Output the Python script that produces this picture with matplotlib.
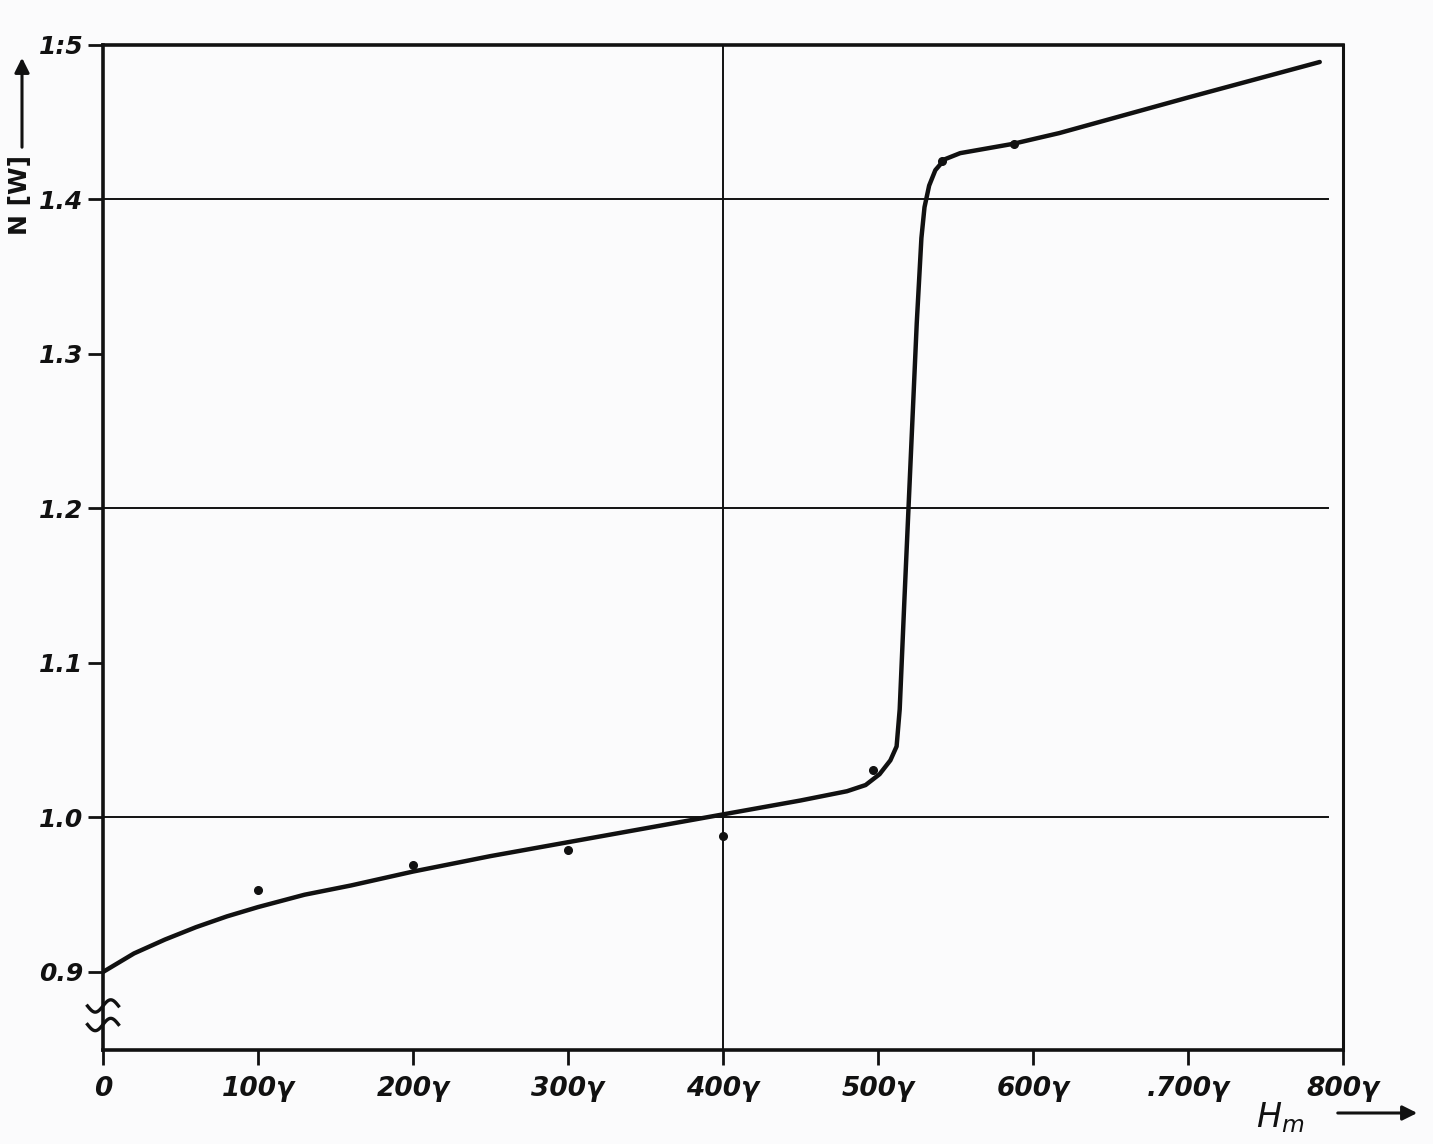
import matplotlib
matplotlib.use("Agg")
import matplotlib.pyplot as plt
import numpy as np

# Curve
curve_x = [0, 20, 40, 60, 80, 100, 130, 160, 200, 250, 300, 350, 400, 450, 480,
           492, 501, 508, 512, 514, 517, 521, 525, 528, 530, 533, 537, 543, 553,
           587, 617, 700, 785]
curve_y = [0.900, 0.912, 0.921, 0.929, 0.936, 0.942, 0.950, 0.956, 0.965, 0.975,
           0.984, 0.993, 1.002, 1.011, 1.017, 1.021, 1.028, 1.037, 1.046, 1.070,
           1.140, 1.230, 1.320, 1.375, 1.395, 1.409, 1.419, 1.426, 1.430,
           1.436, 1.443, 1.466, 1.489]

# Measured points
pts_x = [100, 200, 300, 400, 497, 541, 588]
pts_y = [0.953, 0.969, 0.979, 0.988, 1.031, 1.425, 1.436]

x_ticks = [0, 100, 200, 300, 400, 500, 600, 700, 800]
x_labels = ["0", "100γ", "200γ", "300γ", "400γ", "500γ", "600γ", ".700γ", "800γ"]
y_ticks = [0.9, 1.0, 1.1, 1.2, 1.3, 1.4, 1.5]
y_labels = ["0.9", "1.0", "1.1", "1.2", "1.3", "1.4", "1:5"]
grid_y = [1.0, 1.2, 1.4]
grid_x = [400]

fig = plt.figure(figsize=(14.33, 11.44), dpi=100)
fig.patch.set_facecolor("#fbfbfc")
ax = fig.add_axes([103/1433, 1 - 1050/1144, (1343-103)/1433, (1050-45)/1144])
ax.set_facecolor("none")
ax.set_xlim(0, 800)
ax.set_ylim(0.8495, 1.5)

ink = "#111111"
for s in ["left", "bottom", "top", "right"]:
    ax.spines[s].set_linewidth(2.6)
    ax.spines[s].set_color(ink)
ax.spines["right"].set_linewidth(2.2)

for gy in grid_y:
    ax.plot([0, 790], [gy, gy], color=ink, lw=1.4, zorder=1)
for gx in grid_x:
    ax.plot([gx, gx], [0.8495, 1.5], color=ink, lw=1.4, zorder=1)

ax.plot(curve_x, curve_y, color=ink, lw=3.2, solid_capstyle="round",
        solid_joinstyle="round", zorder=3)
ax.plot(pts_x, pts_y, "o", color=ink, ms=5.5, zorder=4)

ax.set_xticks(x_ticks)
ax.set_xticklabels(x_labels)
ax.set_yticks(y_ticks)
ax.set_yticklabels(y_labels)
ax.tick_params(axis="both", direction="out", length=11, width=2, color=ink,
               labelsize=18, pad=3)
ax.tick_params(axis="x", pad=8, labelsize=19)
for lab in ax.get_xticklabels() + ax.get_yticklabels():
    lab.set_fontstyle("italic")
    lab.set_fontweight("bold")
    lab.set_color(ink)

# axis break marks on the left spine
tt = np.linspace(-1, 1, 30)
for yc in (0.878, 0.866):
    ax.plot(tt * 10, yc + 0.004 * np.sin(tt * np.pi), color=ink, lw=2.4,
            clip_on=False, transform=ax.transData, zorder=5)

# y label with arrow
fig.text(20/1433, 1 - 195/1144, "N [W]", rotation=90, fontsize=18,
         fontweight="bold", ha="center", va="center", color=ink)
fig.add_artist(matplotlib.patches.FancyArrowPatch(
    (22/1433, 1 - 150/1144), (22/1433, 1 - 55/1144),
    transform=fig.transFigure, arrowstyle="-|>", mutation_scale=22,
    lw=2.2, color=ink))

# x label with arrow
fig.text(1280/1433, 1 - 1118/1144, "$H_m$", fontsize=24, fontstyle="italic",
         ha="center", va="center", color=ink)
fig.add_artist(matplotlib.patches.FancyArrowPatch(
    (1335/1433, 1 - 1113/1144), (1420/1433, 1 - 1113/1144),
    transform=fig.transFigure, arrowstyle="-|>", mutation_scale=22,
    lw=2.2, color=ink))

fig.savefig("out.png", dpi=100, facecolor=fig.get_facecolor())
